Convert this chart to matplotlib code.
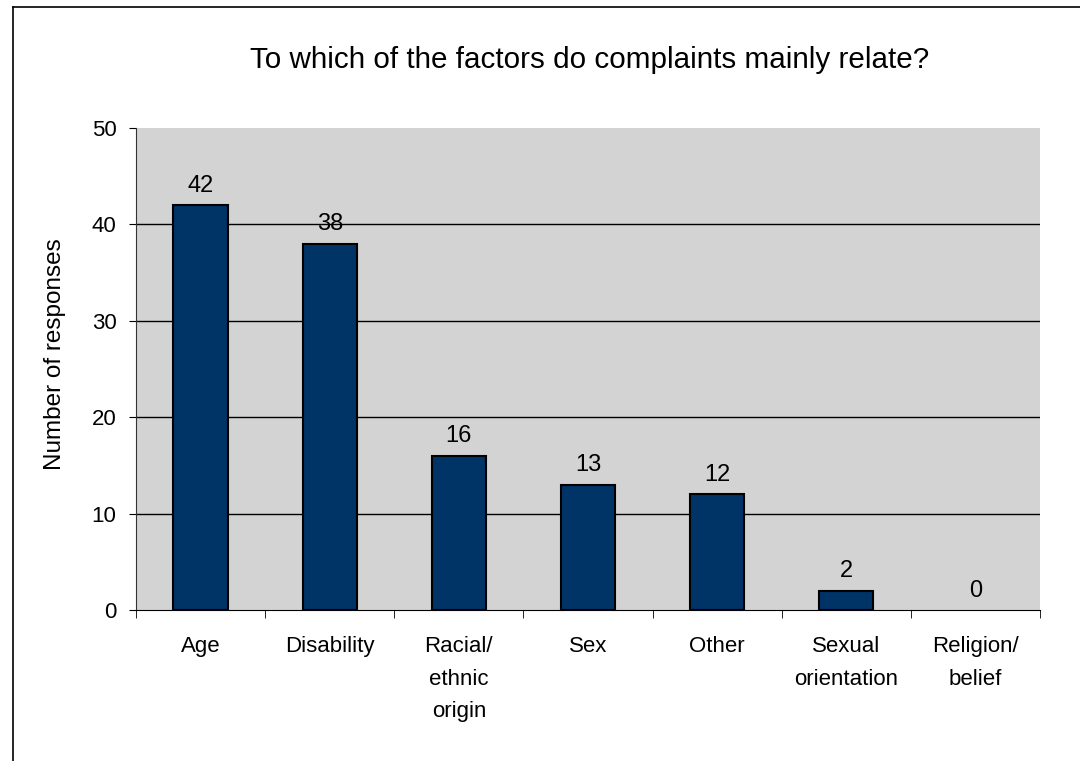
import numpy as np
import matplotlib
matplotlib.use("Agg")
import matplotlib.pyplot as plt
from matplotlib.lines import Line2D

categories = ["Age", "Disability", "Racial/\nethnic\norigin", "Sex", "Other",
              "Sexual\norientation", "Religion/\nbelief"]
responses = [42, 38, 16, 13, 12, 2, 0]
yticks = [0, 10, 20, 30, 40, 50]

plt.rcParams["font.family"] = ["Liberation Sans", "DejaVu Sans"]

fig = plt.figure(figsize=(10.8, 7.61), dpi=100)
ax = fig.add_axes([136 / 1080, 1 - 610 / 761, 904 / 1080, 482 / 761])
ax.set_facecolor("#d3d3d3")

x = np.arange(len(categories))
# zero-height bars get no outline so they vanish into the axis, as in the original
edge_widths = [1.5 if v > 0 else 0 for v in responses]
ax.bar(x, responses, width=0.42, color="#003366", edgecolor="black",
       linewidth=edge_widths, zorder=3)
for xi, v in zip(x, responses):
    ax.annotate(str(v), (xi, v), xytext=(0, 6), textcoords="offset points",
                ha="center", va="bottom", fontsize=17)

ax.set_xlim(-0.5, len(categories) - 0.5)
ax.set_ylim(0, 50)
ax.set_yticks(yticks)
ax.tick_params(axis="y", labelsize=16, length=5, pad=9, direction="out")
ax.set_xticks(x)
ax.set_xticklabels(categories, fontsize=16, linespacing=1.7, va="top")
ax.tick_params(axis="x", which="major", length=0, pad=19)
ax.set_xticks(np.arange(-0.5, len(categories)), minor=True)
ax.tick_params(axis="x", which="minor", length=6, direction="out")

for y in yticks[1:-1]:
    ax.axhline(y, color="black", linewidth=1, zorder=1)

ax.spines["top"].set_visible(False)
ax.spines["right"].set_visible(False)
ax.spines["left"].set_color("#333333")
ax.spines["bottom"].set_color("black")

ax.set_ylabel("Number of responses", fontsize=17.5)
ax.yaxis.set_label_coords(-0.077, 0.53)
fig.text(0.5455, 1 - 60 / 761, "To which of the factors do complaints mainly relate?",
         ha="center", va="center", fontsize=21.3)

# outer chart border (left and top edges visible)
fig.add_artist(Line2D([12.5 / 1080, 12.5 / 1080], [0, 1 - 7 / 761],
                      color="black", linewidth=1.2))
fig.add_artist(Line2D([12.5 / 1080, 1], [1 - 7 / 761, 1 - 7 / 761],
                      color="black", linewidth=1.2))

fig.savefig("out.png", dpi=100)
